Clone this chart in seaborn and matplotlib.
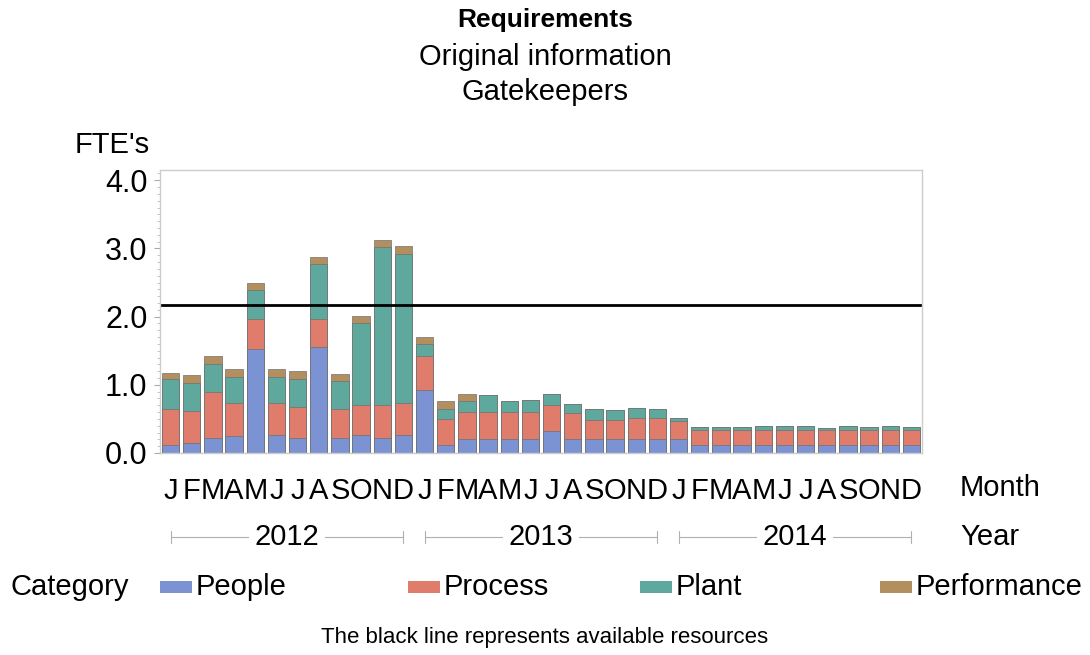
"""
Requirements - Original information - Gatekeepers (stacked FTE bars)
"""
import numpy as np
import pandas as pd
import matplotlib
matplotlib.use("Agg")
import matplotlib.pyplot as plt
from matplotlib.patches import Rectangle
import seaborn as sns

# Datos (FTE por mes, 2012-2014)
month_letters = list("JFMAMJJASOND") * 3
years = ["2012", "2013", "2014"]
people = [0.12, 0.14, 0.22, 0.25, 1.53, 0.27, 0.22, 1.56, 0.22, 0.27, 0.22, 0.27,
          0.93, 0.12, 0.21, 0.21, 0.21, 0.21, 0.32, 0.21, 0.21, 0.21, 0.21, 0.21,
          0.21, 0.12, 0.12, 0.12, 0.12, 0.12, 0.12, 0.12, 0.12, 0.12, 0.12, 0.12]
process = [0.53, 0.48, 0.68, 0.48, 0.44, 0.46, 0.46, 0.41, 0.43, 0.43, 0.48, 0.46,
           0.49, 0.38, 0.39, 0.39, 0.39, 0.39, 0.39, 0.38, 0.28, 0.28, 0.31, 0.31,
           0.26, 0.21, 0.21, 0.21, 0.21, 0.21, 0.21, 0.21, 0.21, 0.21, 0.21, 0.21]
plant = [0.43, 0.41, 0.41, 0.38, 0.42, 0.38, 0.41, 0.80, 0.41, 1.21, 2.32, 2.19,
         0.18, 0.15, 0.16, 0.25, 0.16, 0.17, 0.15, 0.13, 0.15, 0.14, 0.14, 0.12,
         0.05, 0.05, 0.05, 0.05, 0.07, 0.07, 0.07, 0.04, 0.07, 0.05, 0.07, 0.05]
performance = [0.09, 0.11, 0.11, 0.12, 0.11, 0.12, 0.11, 0.11, 0.10, 0.10, 0.10, 0.12,
               0.10, 0.11, 0.11, 0.0, 0.0, 0.0, 0.0, 0.0, 0.0, 0.0, 0.0, 0.0,
               0.0, 0.0, 0.0, 0.0, 0.0, 0.0, 0.0, 0.0, 0.0, 0.0, 0.0, 0.0]
available = 2.17

categories = ["People", "Process", "Plant", "Performance"]
colors = ["#7b93d3", "#e07c6c", "#5fa89d", "#b38f5f"]

# Tabla para seaborn
df = pd.DataFrame({"idx": [str(i) for i in range(len(people))],
                   "People": people, "Process": process,
                   "Plant": plant, "Performance": performance})
cum = df[categories].cumsum(axis=1)

sns.set_style("white")
plt.rcParams["font.family"] = ["Liberation Sans", "DejaVu Sans"]
plt.rcParams["text.color"] = "black"
plt.rcParams["xtick.color"] = "black"
plt.rcParams["ytick.color"] = "black"

FS = 21

fig = plt.figure(figsize=(10.9, 6.55), dpi=100)
ax = fig.add_axes([160 / 1090, 1 - 453 / 655, 762 / 1090, 283 / 655])

# Barras apiladas: dibujar del acumulado mayor al menor
for cat, col in reversed(list(zip(categories, colors))):
    sns.barplot(x=df["idx"], y=cum[cat], color=col, width=0.82,
                edgecolor="#707070", linewidth=0.5, ax=ax, saturation=1)

ax.axhline(available, color="black", lw=2)

ax.set_xlim(-0.5, len(people) - 0.5)
ax.set_ylim(0, 4.15)
ax.set_yticks([0, 1, 2, 3, 4])
ax.set_yticklabels(["0.0", "1.0", "2.0", "3.0", "4.0"], fontsize=22)
ax.set_yticks(np.arange(0, 4.15, 0.1), minor=True)
ax.tick_params(axis="y", which="major", length=4, color="#aaaaaa", pad=5, left=True)
ax.tick_params(axis="y", which="minor", length=2, color="#bbbbbb", left=True)
ax.set_xticks(range(len(people)))
ax.set_xticklabels(month_letters, fontsize=FS)
ax.tick_params(axis="x", length=0, pad=17)
ax.set_xlabel("")
ax.set_ylabel("")
for s in ax.spines.values():
    s.set_color("#cccccc")
    s.set_linewidth(1)

# Fila de anos con corchetes
trans = ax.get_xaxis_transform()
yr_y = (453 - 537) / 283
for i, yr in enumerate(years):
    x0, x1 = i * 12 + 0.0, i * 12 + 11.0
    ax.plot([x0, x1], [yr_y, yr_y], color="#b0b0b0", lw=0.8, transform=trans, clip_on=False)
    for xe in (x0, x1):
        ax.plot([xe, xe], [yr_y - 0.02, yr_y + 0.02], color="#b0b0b0", lw=0.8,
                transform=trans, clip_on=False)
    ax.text((x0 + x1) / 2, yr_y, yr, fontsize=FS, ha="center", va="center", transform=trans,
            bbox=dict(facecolor="white", edgecolor="none", pad=4))

fig.text(960 / 1090, 1 - 488 / 655, "Month", fontsize=FS, ha="left", va="center")
fig.text(960 / 1090, 1 - 537 / 655, "Year", fontsize=FS, ha="left", va="center")
fig.text(75 / 1090, 1 - 145 / 655, "FTE's", fontsize=21, ha="left", va="center")

# Titulos
fig.text(0.5, 1 - 20 / 655, "Requirements", fontsize=19, fontweight="bold", ha="center", va="center")
fig.text(0.5, 1 - 57 / 655, "Original information", fontsize=FS, ha="center", va="center")
fig.text(0.5, 1 - 92 / 655, "Gatekeepers", fontsize=FS, ha="center", va="center")

# Leyenda manual
leg_y = 1 - 587 / 655
fig.text(10 / 1090, leg_y, "Category", fontsize=FS, ha="left", va="center")
patch_x = [160, 408, 640, 880]
for px, cat, col in zip(patch_x, categories, colors):
    fig.patches.append(Rectangle((px / 1090, leg_y - 6 / 655), 32 / 1090, 12 / 655,
                                 facecolor=col, edgecolor="none", transform=fig.transFigure))
    fig.text((px + 36) / 1090, leg_y, cat, fontsize=FS, ha="left", va="center")

fig.text(0.5, 1 - 637 / 655, "The black line represents available resources",
         fontsize=16, ha="center", va="center")

fig.savefig("out.png", dpi=100)
